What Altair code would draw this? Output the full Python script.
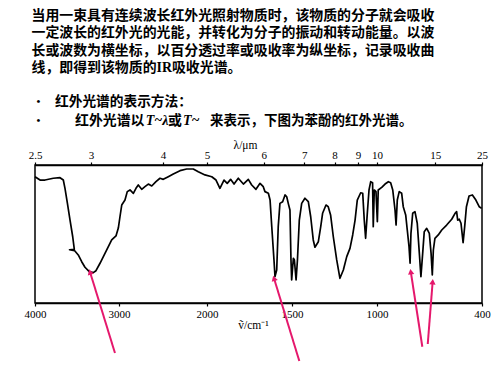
import altair as alt
import pandas as pd

# ---------------- texts ----------------
paragraph_lines = [
    "当用一束具有连续波长红外光照射物质时，该物质的分子就会吸收",
    "一定波长的红外光的光能，并转化为分子的振动和转动能量。以波",
    "长或波数为横坐标，以百分透过率或吸收率为纵坐标，记录吸收曲",
    "线，即得到该物质的IR吸收光谱。",
]
bullet_line_1 = "红外光谱的表示方法："
bullet_line_2_parts = ["红外光谱以", "T~λ", "或", "T~", "来表示，下图为苯酚的红外光谱。"]
bottom_title = "ṽ/cm⁻¹"
top_title = "λ/μm"

# ---------------- axes ----------------
wavenumber_ticks = [4000, 3000, 2000, 1500, 1000, 400]
wavelength_ticks = [2.5, 3, 4, 5, 6, 7, 8, 9, 10, 15, 25]
scale_breaks = [4000, 3000, 2000, 1000, 400]

# ---------------- spectrum (phenol) ----------------
wavenumber = [
    4000, 3940, 3881, 3782, 3702, 3663, 3643, 3615, 3583, 3551, 3532, 3589, 3530,
    3485, 3444, 3405, 3354, 3306, 3274, 3226, 3167, 3087, 3036, 3008, 2989, 2969,
    2932, 2906, 2875, 2837, 2807, 2781, 2742, 2705, 2667, 2628, 2580, 2534, 2497,
    2440, 2383, 2307, 2231, 2156, 2099, 2023, 1972, 1947, 1924, 1900, 1881, 1861,
    1841, 1816, 1786, 1757, 1737, 1712, 1688, 1669, 1659, 1639, 1629, 1619, 1606,
    1600, 1590, 1581, 1571, 1555, 1541, 1531, 1522, 1512, 1506, 1502, 1492, 1486,
    1476, 1468, 1457, 1443, 1424, 1404, 1390, 1375, 1365, 1345, 1331, 1320, 1300,
    1287, 1273, 1257, 1237, 1218, 1198, 1178, 1159, 1143, 1129, 1116, 1096, 1084,
    1075, 1067, 1057, 1047, 1037, 1026, 1022, 1016, 1006, 998, 993, 973, 954, 935,
    922, 910, 897, 891, 884, 873, 859, 850, 836, 827, 817, 811, 806, 796, 783, 770,
    758, 749, 739, 730, 716, 701, 691, 684, 678, 669, 650, 630, 602, 573, 554, 545,
    539, 530, 520, 508, 499, 489, 474, 455, 435, 416, 402,
]
transmittance = [
    91.5, 89.1, 89.1, 90.4, 90.8, 89.1, 83.1, 72.5, 60.1, 48.0, 38.9, 38.6, 38.0,
    34.8, 29.9, 25.9, 22.7, 22.0, 23.4, 28.8, 36.0, 45.7, 48.6, 54.3, 62.5, 71.0,
    74.6, 80.7, 81.9, 79.5, 83.1, 85.5, 82.4, 84.3, 86.2, 84.8, 87.9, 90.4, 89.6,
    91.5, 93.5, 95.9, 97.1, 97.1, 95.1, 92.8, 91.5, 89.1, 83.1, 89.1, 86.7, 89.6,
    86.2, 90.4, 86.2, 89.6, 85.5, 82.4, 86.7, 84.3, 80.7, 79.5, 74.6, 55.3, 31.2,
    19.1, 23.9, 55.3, 72.2, 73.4, 78.3, 77.0, 72.2, 67.4, 31.2, 16.7, 32.4, 31.2,
    16.7, 31.2, 60.1, 72.2, 75.9, 73.4, 62.5, 45.7, 40.4, 44.4, 55.3, 65.0, 71.0,
    69.8, 63.8, 48.0, 31.2, 17.9, 23.9, 33.6, 39.6, 49.3, 60.1, 74.6, 79.9, 79.5,
    60.1, 46.9, 65.0, 81.9, 87.9, 87.2, 55.3, 81.9, 80.7, 58.9, 81.9, 83.8, 86.2, 87.9,
    87.2, 81.9, 67.4, 56.5, 74.6, 80.7, 79.5, 69.8, 63.8, 52.9, 40.8, 28.8, 50.5, 65.0, 66.2, 57.8,
    36.0, 19.1, 36.0, 51.7, 54.1, 50.5, 36.0, 20.3, 38.4, 46.9, 49.3, 52.9, 56.5, 60.7, 65.0, 66.2,
    60.1, 60.7, 57.8, 43.7, 55.3, 69.8, 77.5, 78.3, 74.6, 69.8, 68.6,
]

# ---------------- arrows (wavenumber / transmittance units) ----------------
arrow_tip_wn = [3345, 1606, 807, 682]
arrow_tip_t = [22.5, 17.9, 22.7, 15.4]
arrow_tail_wn = [3048, 1457, 741, 710]
arrow_tail_t = [-36.2, -42.0, -31.7, -29.7]
arrow_head_angle = [342.8, 343.0, 351.2, 4.6]

PINK = "#E5186C"
CJK = "Liberation Serif, Noto Sans CJK SC"
SERIF = "Liberation Serif"

spec_df = pd.DataFrame({"wn": wavenumber, "T": transmittance, "idx": range(len(wavenumber))})

arrow_rows = []
for i in range(len(arrow_tip_wn)):
    arrow_rows.append({"arrow": i, "pt": 0, "wn": arrow_tail_wn[i], "T": arrow_tail_t[i]})
    arrow_rows.append({"arrow": i, "pt": 1, "wn": arrow_tip_wn[i], "T": arrow_tip_t[i]})
arrow_df = pd.DataFrame(arrow_rows)
head_df = pd.DataFrame({"wn": arrow_tip_wn, "T": arrow_tip_t, "angle": arrow_head_angle})

x_scale = alt.Scale(domain=scale_breaks, range=[0, 84, 172, 342, 447], nice=False, zero=False)
y_scale = alt.Scale(domain=[0, 100], nice=False, zero=False)

axis_common = dict(
    labelFont=SERIF, labelFontSize=11, labelColor="black", labelFlush=False,
    labelOverlap=False, labelPadding=2, tickSize=3, tickColor="black", tickWidth=1.2,
    domainColor="black", domainWidth=1.5, grid=False,
    titleFont=SERIF, titleFontSize=11.5, titleFontWeight="normal", titleColor="black",
    titleBaseline="middle", titleAlign="center",
)

bottom_axis = alt.Axis(values=wavenumber_ticks, format="d", orient="bottom",
                       title=bottom_title, titleX=218, titleY=22, **axis_common)
top_axis = alt.Axis(values=[10000 / l for l in wavelength_ticks], orient="top",
                    labelExpr="round(100000 / datum.value) / 10",
                    title=top_title, titleX=210, titleY=-20, **axis_common)

spectrum = alt.Chart(spec_df).mark_line(color="black", strokeWidth=1.7, strokeJoin="round").encode(
    x=alt.X("wn:Q", scale=x_scale, axis=bottom_axis),
    y=alt.Y("T:Q", scale=y_scale, axis=None),
    order=alt.Order("idx:Q"),
)

arrows = alt.Chart(arrow_df).mark_line(color=PINK, strokeWidth=2).encode(
    x=alt.X("wn:Q", scale=x_scale, axis=bottom_axis),
    y=alt.Y("T:Q", scale=y_scale, axis=None),
    detail="arrow:N",
    order=alt.Order("pt:Q"),
)

heads = alt.Chart(head_df).mark_point(shape="triangle-up", filled=True, color=PINK, size=40, opacity=1).encode(
    x=alt.X("wn:Q", scale=x_scale, axis=bottom_axis),
    y=alt.Y("T:Q", scale=y_scale, axis=None),
    angle=alt.Angle("angle:Q", scale=None),
)

one = pd.DataFrame({"k": [0]})


def label(text, x, y, size, font=CJK, weight="bold", style="normal", align="left"):
    return alt.Chart(one).mark_text(
        align=align, baseline="middle", font=font, fontSize=size, fontWeight=weight,
        fontStyle=style, color="black",
    ).encode(x=alt.value(x), y=alt.value(y), text=alt.value(text))


DY = 1.5
texts = [
    label(paragraph_lines[0], -3.5, -149.0, 13.9),
    label(paragraph_lines[1], -3.5, -131.7, 13.9),
    label(paragraph_lines[2], -3.5, -114.3, 13.9),
    label(paragraph_lines[3], -3.5, -96.8, 13.9),
    label("•", 3.5, -65 + DY, 11, font=SERIF, align="center"),
    label("•", 3.5, -46 + DY, 11, font=SERIF, align="center"),
    label(bullet_line_1, 20, -65 + DY, 13.7),
    label(bullet_line_2_parts[0], 40, -46 + DY, 13.9),
    label(bullet_line_2_parts[1], 110.7, -46 + DY, 14, font=SERIF, style="italic"),
    label(bullet_line_2_parts[2], 133, -46 + DY, 13.9),
    label(bullet_line_2_parts[3], 148, -46 + DY, 14, font=SERIF, style="italic"),
    label(bullet_line_2_parts[4], 175, -46 + DY, 13.5),
]

top_layer = alt.Chart(spec_df).mark_point(opacity=0, size=1).encode(
    x=alt.X("wn:Q", scale=x_scale, axis=top_axis),
    y=alt.Y("T:Q", scale=y_scale, axis=None),
)

base = alt.layer(spectrum, arrows, heads, *texts)

chart = alt.layer(base, top_layer).resolve_scale(x="independent").properties(
    width=447,
    height=138,
    padding={"left": 27, "top": 157, "right": 10, "bottom": 60},
    autosize=alt.AutoSizeParams(type="none"),
    background="white",
).configure_view(stroke="black", strokeWidth=1.5)

chart.save("out.html", embed_options={"renderer": "svg", "actions": False})
